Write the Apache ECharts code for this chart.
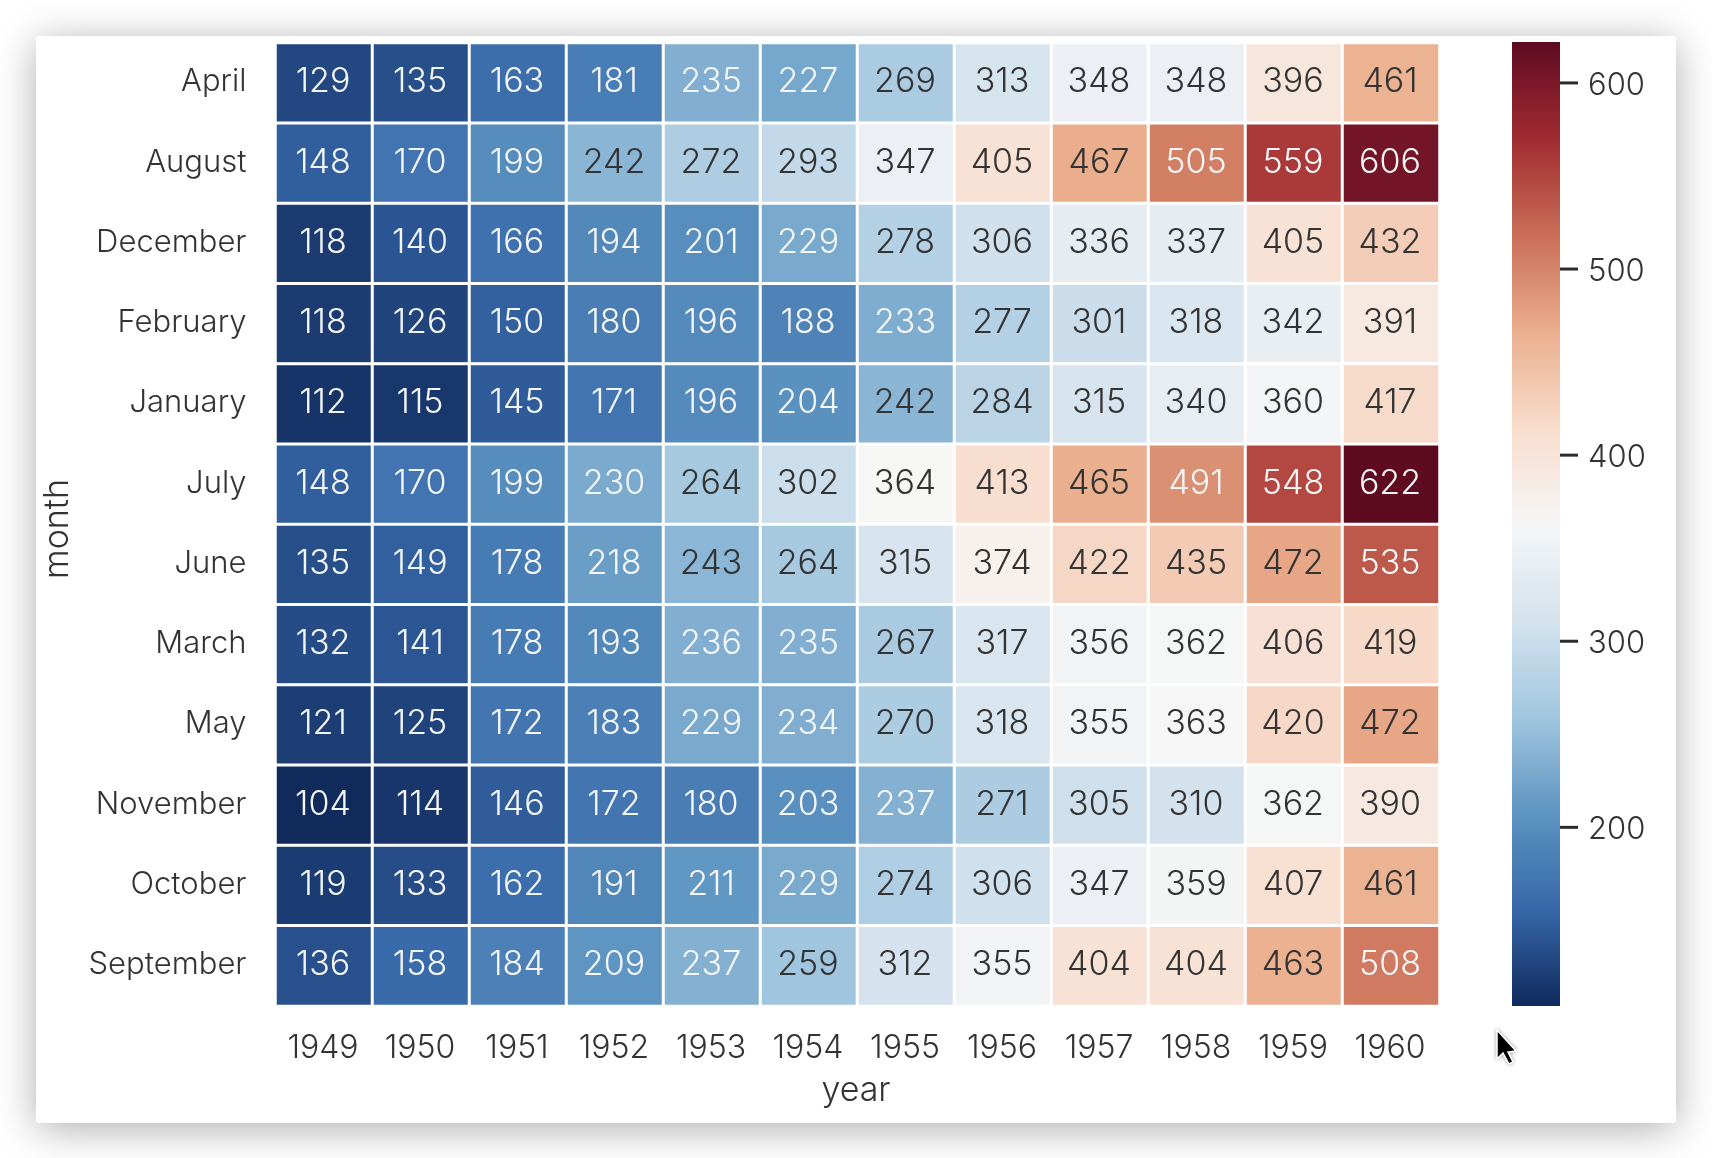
<!DOCTYPE html>
<html><head><meta charset="utf-8">
<style>html,body{margin:0;padding:0;background:#fff;width:1712px;height:1158px;overflow:hidden}
#card{position:absolute;left:36px;top:36px;width:1640px;height:1087px;background:#fff;border-radius:3px;box-shadow:0 6px 42px rgba(0,0,0,.32)}
#c{position:absolute;left:0;top:0;width:1712px;height:1158px}</style>
<script src="https://cdn.jsdelivr.net/npm/echarts@6/dist/echarts.min.js"></script>
</head><body><div id="card"></div><div id="c"></div>
<script>
const years=['1949','1950','1951','1952','1953','1954','1955','1956','1957','1958','1959','1960'];
const months=['April','August','December','February','January','July','June','March','May','November','October','September'];
const april=[129,135,163,181,235,227,269,313,348,348,396,461];
const august=[148,170,199,242,272,293,347,405,467,505,559,606];
const december=[118,140,166,194,201,229,278,306,336,337,405,432];
const february=[118,126,150,180,196,188,233,277,301,318,342,391];
const january=[112,115,145,171,196,204,242,284,315,340,360,417];
const july=[148,170,199,230,264,302,364,413,465,491,548,622];
const june=[135,149,178,218,243,264,315,374,422,435,472,535];
const march=[132,141,178,193,236,235,267,317,356,362,406,419];
const may=[121,125,172,183,229,234,270,318,355,363,420,472];
const november=[104,114,146,172,180,203,237,271,305,310,362,390];
const october=[119,133,162,191,211,229,274,306,347,359,407,461];
const september=[136,158,184,209,237,259,312,355,404,404,463,508];
const rows=[april,august,december,february,january,july,june,march,may,november,october,september];
const colorbarTicks=[200,300,400,500,600];
const colorMin=104, colorMax=622;
const cmap=['#102a5c','#3768a9','#5d94c1','#a1c6df','#d5e3ee','#f6f6f6','#f8ddcd','#eaae8c','#c96e56','#a12b32','#5e0b22'];
const font='Inter, "Noto Sans", sans-serif';
const ink='#333333';
const data=[];
rows.forEach((r,y)=>r.forEach((v,x)=>data.push({value:[x,y,v],label:{color:(v<240||v>480)?'#f4f6f8':ink}})));
const barGradient=new echarts.graphic.LinearGradient(0,1,0,0,cmap.map((c,i)=>({offset:i/(cmap.length-1),color:c})));
const txt=(size,extra)=>Object.assign({color:ink,fontFamily:font,fontWeight:300,fontSize:size},extra||{});
const chart=echarts.init(document.getElementById('c'),null,{renderer:'canvas',width:1712,height:1158});
chart.setOption({
 animation:false,backgroundColor:'transparent',
 grid:[{left:275.5,top:43,width:1164,height:963},{left:1512,top:42,width:48,height:964}],
 xAxis:[
  {type:'category',data:years,gridIndex:0,axisLine:{show:false},axisTick:{show:false},splitArea:{show:false},
   axisLabel:{margin:26,formatter:'{a|{value}}',rich:{a:txt(32,{padding:[0,2,0,0]})}},
   name:'year',nameLocation:'middle',nameGap:68,nameTextStyle:txt(34,{padding:[0,3,0,0]})},
  {type:'category',data:['colorbar'],gridIndex:1,show:false,boundaryGap:true}
 ],
 yAxis:[
  {type:'category',data:months,inverse:true,gridIndex:0,axisLine:{show:false},axisTick:{show:false},
   axisLabel:{margin:29,formatter:'{a|{value}}',rich:{a:txt(31,{padding:[0,0,2,0]})}},
   name:'month',nameLocation:'middle',nameGap:201,nameRotate:90,nameTextStyle:txt(34,{padding:[0,9,0,0]})},
  {type:'value',gridIndex:1,position:'right',min:colorMin,max:colorMax,splitLine:{show:false},
   axisLine:{show:false},axisTick:{show:false},
   axisLabel:{margin:28,customValues:colorbarTicks,formatter:'{a|{value}}',rich:{a:txt(31,{padding:[5,0,0,0]})}}}
 ],
 visualMap:{type:'continuous',show:false,min:colorMin,max:colorMax,seriesIndex:0,inRange:{color:cmap}},
 series:[
  {type:'heatmap',xAxisIndex:0,yAxisIndex:0,data:data,
   label:{show:true,fontFamily:font,fontWeight:300,fontSize:34,offset:[-1,-1]},
   itemStyle:{borderColor:'#ffffff',borderWidth:3},emphasis:{disabled:true}},
  {type:'bar',xAxisIndex:1,yAxisIndex:1,data:[colorMax],barWidth:'100%',silent:true,itemStyle:{color:barGradient}},
  {type:'scatter',xAxisIndex:1,yAxisIndex:1,data:colorbarTicks.map(v=>[0,v]),symbol:'rect',symbolSize:[18,3],symbolOffset:[33,0],clip:false,silent:true,itemStyle:{color:'#2b2b2b',opacity:1}}
 ],
 graphic:[{type:'polygon',z:100,shape:{points:[[1497,1030],[1497,1059],[1503,1053],[1509,1064],[1513,1062],[1508,1052],[1516,1051]]},style:{fill:'#000',stroke:'#fff',lineWidth:1.5,shadowBlur:4,shadowColor:'rgba(0,0,0,.3)'}}]
});
</script></body></html>
